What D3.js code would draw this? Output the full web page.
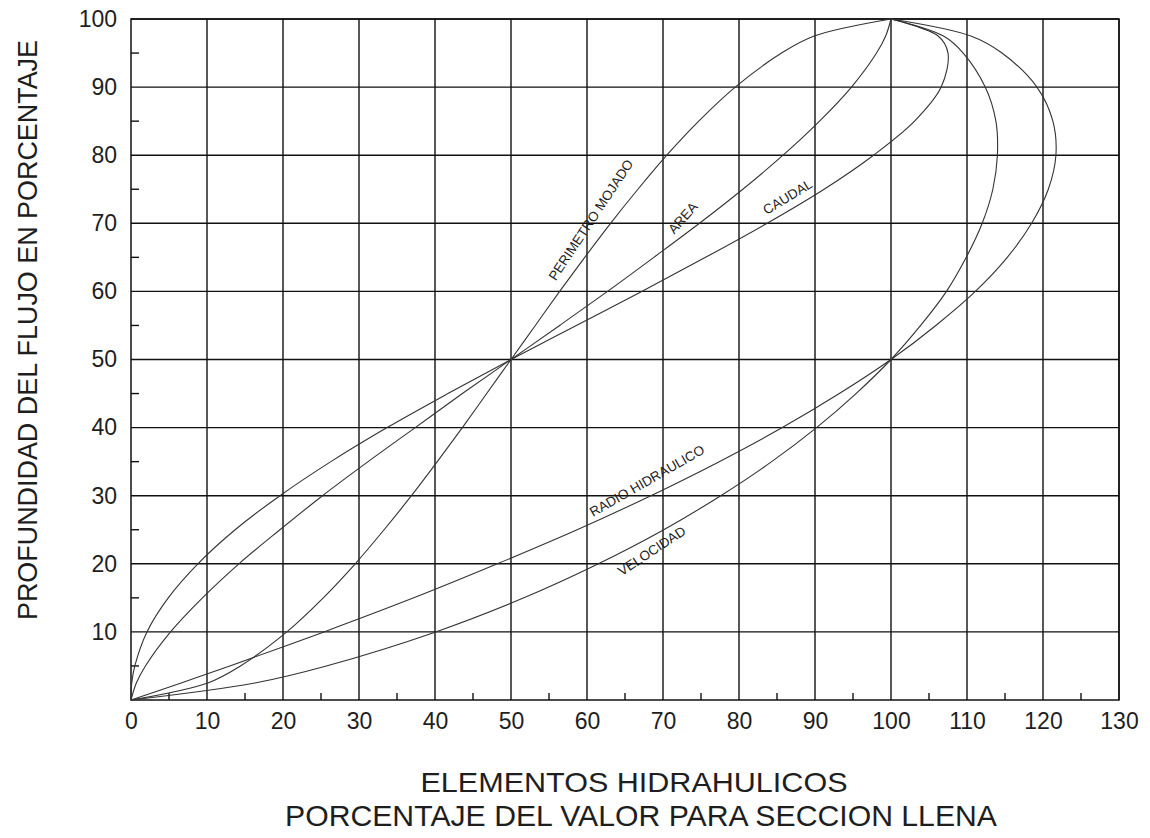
<!DOCTYPE html>
<html>
<head>
<meta charset="utf-8">
<script src="https://cdn.jsdelivr.net/npm/d3@7"></script>
<style>
  body { margin: 0; background: #fff; }
  svg { display: block; font-family: "Liberation Sans", Arial, sans-serif; }
  .tick text { fill: #1e1e1e; }
</style>
</head>
<body>
<div class="chart"></div>
<script>
// profundidad del flujo (%), eje vertical
var depth = [0, 2.5, 5, 10, 15, 20, 25, 30, 35, 40, 45, 50, 55, 60, 65, 70, 75, 80, 85, 90, 95, 97.5, 100];

// elementos hidraulicos (% del valor a seccion llena)
var perimetro = [0, 10.1, 14.4, 20.5, 25.3, 29.5, 33.3, 36.9, 40.3, 43.6, 46.8, 50, 53.2, 56.4, 59.7, 63.1, 66.7, 70.5, 74.7, 79.5, 85.6, 89.9, 100];
var area      = [0, 0.7, 1.9, 5.2, 9.4, 14.2, 19.6, 25.2, 31.2, 37.4, 43.6, 50, 56.4, 62.7, 68.8, 74.8, 80.5, 85.8, 90.6, 94.8, 98.1, 99.3, 100];
var caudal    = [0, 0.1, 0.5, 2.1, 4.9, 8.8, 13.7, 19.6, 26.3, 33.7, 41.7, 50, 58.6, 67.2, 75.6, 83.7, 91.2, 97.7, 103.1, 106.6, 107.5, 106.2, 100];
var radio     = [0, 6.6, 13.0, 25.4, 37.2, 48.2, 58.7, 68.4, 77.4, 85.7, 93.2, 100, 105.9, 111.1, 115.3, 118.5, 120.7, 121.7, 121.3, 119.2, 114.6, 110.5, 100];
var velocidad = [0, 16.3, 25.7, 40.1, 51.7, 61.5, 70.1, 77.6, 84.3, 90.2, 95.4, 100, 103.9, 107.3, 109.9, 112.0, 113.4, 114.0, 113.8, 112.4, 109.5, 106.9, 100];

var xTicks = [0, 10, 20, 30, 40, 50, 60, 70, 80, 90, 100, 110, 120, 130];
var yTicks = [10, 20, 30, 40, 50, 60, 70, 80, 90, 100];
var xMinor = [5, 15, 25, 35, 45, 55, 65, 75, 85, 95, 105, 115, 125];
var yMinor = [5, 15, 25, 35, 45, 55, 65, 75, 85, 95];

// rotulos de las curvas (posicion en unidades de la grafica)
var labels = [
    { text: "PERIMETRO MOJADO", x: 60.5, y: 70.5, angle: -56.5 },
    { text: "AREA", x: 72.6, y: 70.8, angle: -48.5 },
    { text: "CAUDAL", x: 86.4, y: 73.9, angle: -31 },
    { text: "RADIO HIDRAULICO", x: 67.9, y: 32.2, angle: -29.8 },
    { text: "VELOCIDAD", x: 68.5, y: 21.9, angle: -33.4 }
];

var series = [perimetro, area, caudal, radio, velocidad];

var width = 1150, height = 838;
var margin = { left: 131, right: 31, top: 19, bottom: 138 };

var x = d3.scaleLinear().domain([0, 130]).range([margin.left, width - margin.right]);
var y = d3.scaleLinear().domain([0, 100]).range([height - margin.bottom, margin.top]);

var svg = d3.select(".chart").append("svg")
    .attr("width", width)
    .attr("height", height);

// cuadricula
var grid = svg.append("g").attr("stroke", "#111").attr("stroke-width", 1.4);
grid.selectAll(".vx").data(xTicks.slice(1)).enter().append("line")
    .attr("x1", function(d) { return x(d); })
    .attr("x2", function(d) { return x(d); })
    .attr("y1", y(0)).attr("y2", y(100));
grid.selectAll(".hy").data(yTicks).enter().append("line")
    .attr("x1", x(0)).attr("x2", x(130))
    .attr("y1", function(d) { return y(d); })
    .attr("y2", function(d) { return y(d); });

// marcas menores
grid.selectAll(".mx").data(xMinor).enter().append("line")
    .attr("x1", function(d) { return x(d); })
    .attr("x2", function(d) { return x(d); })
    .attr("y1", y(0)).attr("y2", y(0) - 7);
grid.selectAll(".my").data(yMinor).enter().append("line")
    .attr("x1", x(0)).attr("x2", x(0) + 8)
    .attr("y1", function(d) { return y(d); })
    .attr("y2", function(d) { return y(d); });

// marco
svg.append("rect")
    .attr("x", x(0)).attr("y", y(100))
    .attr("width", x(130) - x(0)).attr("height", y(0) - y(100))
    .attr("fill", "none").attr("stroke", "#111").attr("stroke-width", 1.5);

// ejes (solo rotulos)
var xAxis = svg.append("g")
    .attr("transform", "translate(0," + y(0) + ")")
    .call(d3.axisBottom(x).tickValues(xTicks).tickSize(0).tickPadding(13));
var yAxis = svg.append("g")
    .attr("transform", "translate(" + x(0) + ",0)")
    .call(d3.axisLeft(y).tickValues(yTicks).tickSize(0).tickPadding(14));
[xAxis, yAxis].forEach(function(a) {
    a.select(".domain").remove();
    a.selectAll("text").style("font-size", "23px").style("font-family", "\"Liberation Sans\", Arial, sans-serif");
});

// curvas
var line = d3.line()
    .x(function(d) { return x(d[0]); })
    .y(function(d) { return y(d[1]); })
    .curve(d3.curveCatmullRom.alpha(0.5));

svg.append("g").selectAll("path")
    .data(series)
    .enter().append("path")
    .attr("d", function(s) { return line(s.map(function(v, i) { return [v, depth[i]]; })); })
    .attr("fill", "none")
    .attr("stroke", "#333")
    .attr("stroke-width", 1.1);

// rotulos de curvas
svg.append("g").selectAll("text")
    .data(labels)
    .enter().append("text")
    .attr("transform", function(d) { return "translate(" + x(d.x) + "," + y(d.y) + ") rotate(" + d.angle + ")"; })
    .attr("text-anchor", "middle")
    .attr("dy", "0.35em")
    .style("font-size", "13.5px")
    .attr("fill", "#1e1e1e")
    .text(function(d) { return d.text; });

// titulos
svg.append("text")
    .attr("transform", "translate(37,330) rotate(-90)")
    .attr("text-anchor", "middle")
    .style("font-size", "28px")
    .attr("fill", "#1e1e1e")
    .attr("textLength", 580)
    .attr("lengthAdjust", "spacingAndGlyphs")
    .text("PROFUNDIDAD DEL FLUJO EN PORCENTAJE");

svg.append("text")
    .attr("x", 634).attr("y", 792)
    .attr("text-anchor", "middle")
    .style("font-size", "28px")
    .attr("fill", "#1e1e1e")
    .attr("textLength", 427)
    .attr("lengthAdjust", "spacingAndGlyphs")
    .text("ELEMENTOS HIDRAHULICOS");

svg.append("text")
    .attr("x", 641).attr("y", 826)
    .attr("text-anchor", "middle")
    .style("font-size", "29px")
    .attr("fill", "#1e1e1e")
    .attr("textLength", 712)
    .attr("lengthAdjust", "spacingAndGlyphs")
    .text("PORCENTAJE DEL VALOR PARA SECCION LLENA");
</script>
</body>
</html>
